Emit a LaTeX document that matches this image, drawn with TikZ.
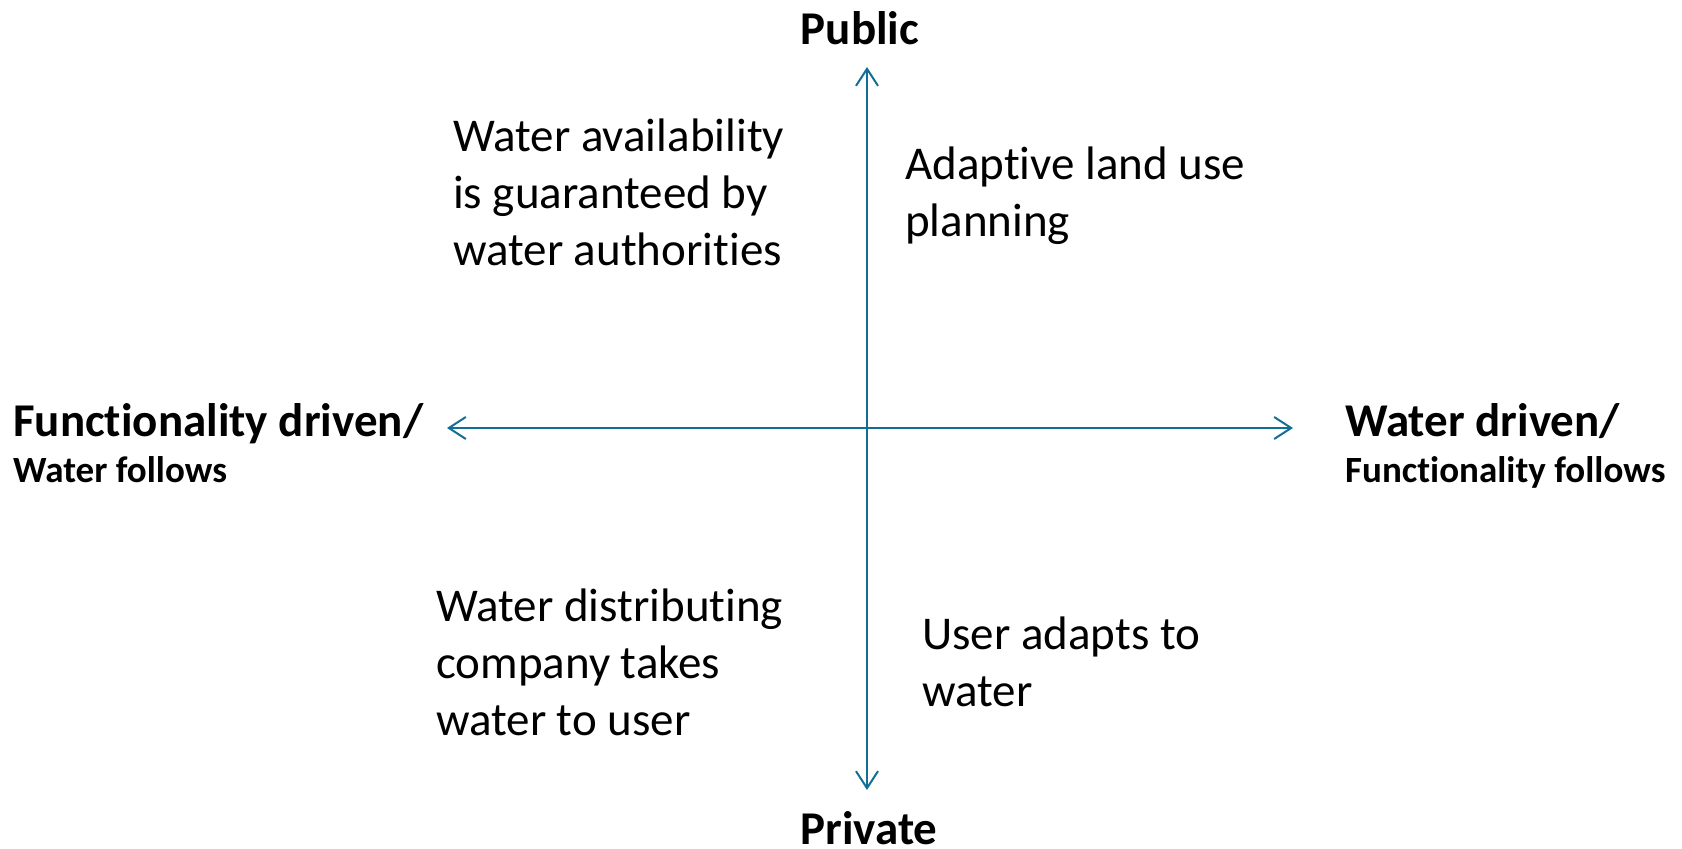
\documentclass[tikz,border=0pt]{standalone}
\usepackage{fontspec}
\setmainfont{Carlito}[RawFeature={-liga;-clig;-dlig}]
\usetikzlibrary{arrows.meta}
\definecolor{axisblue}{RGB}{18,110,150}
\tikzset{
  axis/.style={draw=axisblue, line width=2pt,
    {Straight Barb[length=17pt,width=22pt]}-{Straight Barb[length=17pt,width=22pt]}},
  pole/.style={font=\fontsize{47}{55}\selectfont\bfseries, inner sep=0pt},
  polesub/.style={font=\fontsize{37}{44}\selectfont\bfseries, inner sep=0pt, anchor=base west},
  quad/.style={font=\fontsize{47}{57}\selectfont, align=left, inner sep=0pt, anchor=base west}
}
\begin{document}
\begin{tikzpicture}[x=1pt, y=1pt]
  \useasboundingbox (0,0) rectangle (1682,849);
  %% axes
  \coordinate (top) at (867,782);
  \coordinate (bot) at (867,59);
  \coordinate (west) at (447,421);
  \coordinate (east) at (1293,421);
  \draw[axis] (bot) to (top);
  \draw[axis] (west) to (east);

  %% poles
  \node[pole, anchor=base] (public) at (860,804) {Public};
  \node[pole, anchor=base] (private) at (869,4) {Private};
  \node[pole, anchor=base west] (funcdriven) at (13,412) {Funct\kern0pt ionality driven/};
    \node[polesub] (waterfollows) at (13,366) {Water follows};
  \node[pole, anchor=base west] (waterdriven) at (1345,412) {Water driven/};
    \node[polesub] (funcfollows) at (1345,366) {Funct\kern0pt ionality follows};

  %% quadrants (anchored at the last line)
  \node[quad] (qnw) at (453,583) {Water availability\\is guaranteed by\\water authorit\kern0pt ies};
  \node[quad] (qne) at (905,612) {Adapt\kern0pt ive land use\\planning};
  \node[quad] (qsw) at (436,113) {Water distribut\kern0pt ing\\company takes\\water to user};
  \node[quad] (qse) at (922,142) {User adapts to\\water};
\end{tikzpicture}
\end{document}
